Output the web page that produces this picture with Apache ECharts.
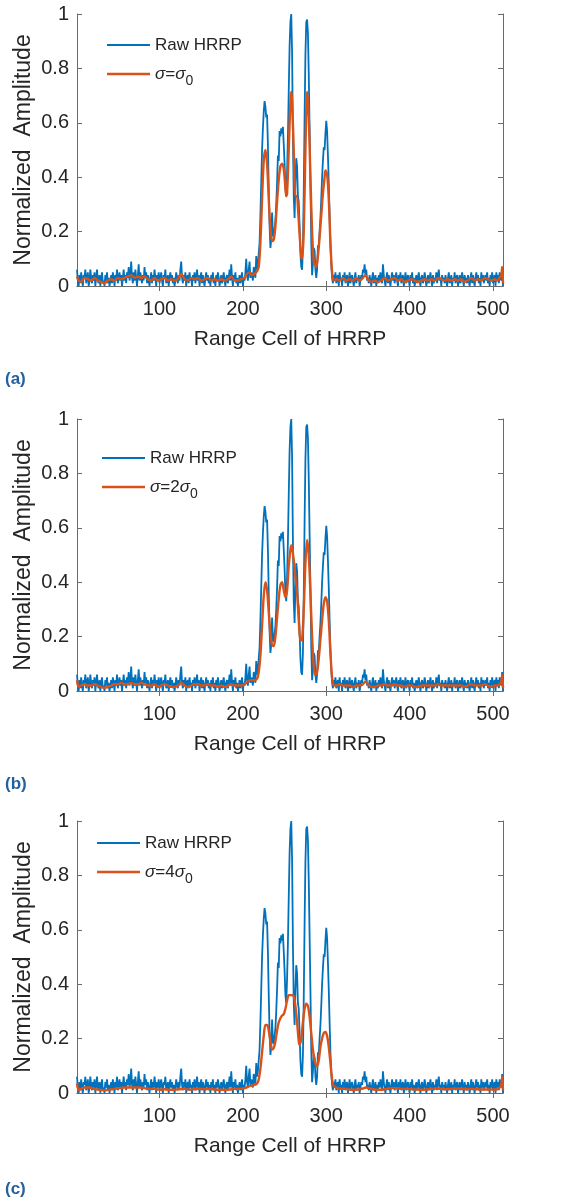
<!DOCTYPE html>
<html>
<head>
<meta charset="utf-8">
<script src="https://cdn.jsdelivr.net/npm/echarts@6/dist/echarts.min.js"></script>
<style>html,body{margin:0;padding:0;background:#fff}#c{width:576px;height:1201px}</style>
</head>
<body>
<div id="c"></div>
<script>
// Raw HRRP amplitude, range cells 1..512 (same raw profile in all panels)
const rawHRRP = [
.06,.02,.00,.04,.01,.05,.02,.00,.04,.03,
.06,.01,.03,.05,.00,.02,.06,.03,.01,.04,
.02,.05,.00,.03,.06,.02,.01,.04,.00,.03,
.05,.01,.02,.00,.04,.02,.05,.01,.03,.00,
.02,.04,.01,.05,.03,.00,.04,.02,.06,.01,
.03,.05,.02,.04,.00,.03,.06,.02,.04,.01,
.05,.03,.07,.02,.04,.09,.03,.01,.05,.02,
.06,.03,.00,.04,.08,.02,.05,.03,.01,.04,
.02,.07,.03,.05,.01,.04,.02,.00,.03,.05,
.01,.04,.02,.06,.03,.00,.04,.02,.05,.01,
.03,.05,.02,.00,.04,.03,.06,.01,.02,.04,
.00,.03,.05,.02,.04,.01,.03,.00,.02,.05,
.03,.01,.04,.02,.06,.09,.03,.01,.04,.02,
.05,.00,.03,.04,.01,.05,.02,.03,.00,.04,
.02,.05,.01,.03,.06,.02,.04,.00,.03,.05,
.01,.04,.02,.00,.03,.05,.02,.04,.01,.03,
.00,.04,.02,.05,.01,.03,.00,.04,.02,.05,
.03,.00,.02,.04,.01,.03,.05,.02,.00,.03,
.04,.01,.03,.06,.02,.08,.03,.00,.04,.02,
.05,.01,.03,.00,.02,.04,.01,.03,.05,.00,
.03,.02,.05,.10,.04,.02,.06,.09,.03,.05,
.04,.02,.07,.05,.03,.11,.06,.08,
.12,.16,.26,.38,.50,.58,.64,.68,.66,.62,
.63,.52,.36,.22,.14,.17,.27,.19,.18,.21,
.24,.30,.38,.48,.46,.57,.55,.58,.56,.585,
.52,.45,.36,.33,.42,.55,.72,.88,.97,1.0,
.86,.55,.33,.25,.38,.47,.44,.33,.31,.22,
.12,.07,.06,.14,.35,.62,.85,.97,.98,.93,
.78,.58,.38,.16,.04,.08,.14,.13,.06,.03,
.06,.15,.14,.20,.25,.32,.40,.46,.51,.50,
.56,.607,.57,.48,.38,.26,.15,.08,.03,.01,
.04,.02,
.05,.01,.03,.04,.00,.05,.02,.03,.00,.04,
.02,.05,.01,.03,.04,.00,.02,.05,.01,.03,
.04,.02,.00,.03,.05,.01,.03,.02,.04,.00,
.02,.04,.03,.06,.05,.08,.04,.06,.02,.03,
.01,.04,.02,.00,.03,.05,.01,.02,.04,.00,
.03,.01,.04,.02,.05,.03,.01,.08,.04,.02,
.00,.03,.05,.01,.04,.02,.00,.03,.05,.02,
.04,.01,.03,.05,.02,.00,.04,.02,.05,.01,
.03,.04,.00,.02,.05,.01,.03,.04,.02,.00,
.04,.02,.05,.01,.03,.00,.02,.04,.01,.03,
.05,.02,.00,.03,.04,.01,.02,.05,.03,.00,
.02,.04,.01,.03,.05,.02,.00,.04,.01,.03,
.02,.05,.01,.04,.06,.02,.03,.00,.04,.02,
.03,.01,.04,.02,.00,.03,.05,.01,.02,.04,
.00,.03,.02,.05,.01,.03,.04,.00,.02,.04,
.01,.03,.05,.02,.00,.04,.02,.03,.01,.04,
.02,.00,.03,.05,.01,.04,.02,.00,.03,.05,
.02,.04,.01,.03,.00,.05,.02,.04,.01,.03,
.04,.02,.05,.01,.03,.00,.04,.02,.05,.01,
.03,.04,.00,.05,.02,.04,.01,.05,.03,.02,
.07,.00
];

// Filtered profiles [range cell, amplitude]
const sigma1 = [[1,.035],[3,.02],[6,.015],[10,.03],[14,.025],[18,.02],[22,.03],[26,.02],[30,.015],[34,.01],[38,.02],[42,.025],[46,.02],[50,.03],[54,.025],[58,.03],[62,.035],[66,.04],[70,.03],[74,.035],[78,.03],[82,.035],[86,.025],[90,.02],[94,.03],[98,.02],[102,.025],[106,.03],[110,.02],[114,.025],[118,.02],[122,.025],[126,.045],[130,.025],[134,.02],[138,.03],[142,.025],[146,.03],[150,.02],[154,.025],[158,.03],[162,.02],[166,.025],[170,.02],[174,.025],[178,.02],[182,.025],[186,.035],[190,.02],[194,.02],[198,.025],[202,.03],[205,.045],[208,.05],[211,.04],[214,.045],[217,.055],[219,.07],[221,.16],[223,.32],[225,.46],[227,.50],[229,.45],[231,.32],[233,.21],[235,.165],[237,.17],[239,.22],[241,.31],[243,.39],[245,.44],[247,.45],[249,.43],[251,.36],[252,.33],[253,.34],[255,.50],[257,.68],[258,.714],[259,.68],[261,.50],[262,.38],[263,.33],[264,.33],[265,.33],[266,.29],[268,.19],[270,.11],[271,.10],[273,.20],[275,.50],[277,.714],[279,.62],[281,.40],[283,.20],[285,.09],[287,.075],[288,.07],[290,.11],[292,.18],[294,.26],[296,.34],[298,.40],[299,.425],[301,.41],[303,.32],[305,.16],[307,.05],[309,.02],[312,.025],[316,.02],[320,.03],[324,.02],[328,.025],[332,.02],[336,.03],[340,.02],[344,.03],[347,.04],[350,.025],[354,.015],[358,.02],[362,.015],[366,.02],[370,.03],[374,.02],[378,.025],[382,.03],[386,.02],[390,.025],[394,.015],[398,.02],[402,.025],[406,.02],[410,.015],[414,.02],[418,.025],[422,.02],[426,.025],[430,.02],[434,.03],[438,.025],[442,.02],[446,.025],[450,.02],[454,.025],[458,.02],[462,.025],[466,.015],[470,.02],[474,.03],[478,.02],[482,.025],[486,.02],[490,.03],[494,.025],[498,.02],[502,.025],[505,.02],[508,.03],[510,.04],[511,.07],[512,.01]];

const sigma2 = [[1,.04],[3,.015],[6,.02],[10,.025],[14,.02],[18,.02],[22,.025],[26,.02],[30,.015],[34,.012],[38,.015],[42,.02],[46,.025],[50,.025],[54,.03],[58,.025],[62,.025],[66,.03],[70,.025],[74,.025],[78,.03],[82,.025],[86,.02],[90,.02],[94,.025],[98,.015],[102,.02],[106,.025],[110,.02],[114,.015],[118,.015],[122,.02],[126,.03],[130,.02],[134,.015],[138,.02],[142,.025],[146,.025],[150,.02],[154,.02],[158,.025],[162,.02],[166,.02],[170,.015],[174,.02],[178,.015],[182,.02],[186,.025],[190,.02],[194,.02],[198,.02],[202,.025],[206,.035],[210,.04],[214,.04],[217,.045],[219,.07],[221,.13],[223,.24],[225,.35],[227,.40],[229,.37],[231,.29],[233,.21],[235,.17],[237,.165],[239,.20],[241,.27],[243,.34],[245,.39],[247,.40],[249,.37],[251,.345],[253,.37],[255,.46],[257,.52],[258,.535],[259,.53],[261,.48],[263,.42],[265,.36],[267,.26],[269,.185],[271,.19],[273,.30],[275,.47],[277,.555],[279,.50],[281,.36],[283,.20],[285,.09],[287,.058],[289,.07],[291,.12],[293,.19],[295,.26],[297,.32],[299,.345],[301,.33],[303,.26],[305,.14],[307,.05],[309,.02],[312,.02],[316,.025],[320,.02],[324,.02],[328,.02],[332,.015],[336,.02],[340,.02],[344,.025],[347,.035],[350,.025],[354,.015],[358,.015],[362,.02],[366,.02],[370,.025],[374,.02],[378,.02],[382,.025],[386,.02],[390,.02],[394,.015],[398,.02],[402,.02],[406,.015],[410,.015],[414,.02],[418,.02],[422,.02],[426,.02],[430,.02],[434,.025],[438,.02],[442,.02],[446,.02],[450,.02],[454,.02],[458,.02],[462,.02],[466,.015],[470,.02],[474,.025],[478,.02],[482,.02],[486,.02],[490,.025],[494,.02],[498,.015],[502,.02],[505,.02],[508,.025],[510,.035],[511,.06],[512,.01]];

const sigma4 = [[1,.035],[3,.01],[6,.015],[10,.02],[16,.02],[22,.015],[28,.012],[34,.01],[40,.012],[46,.015],[52,.018],[58,.02],[64,.02],[70,.02],[76,.02],[82,.018],[88,.015],[94,.015],[100,.012],[106,.014],[112,.012],[118,.012],[124,.014],[130,.015],[136,.012],[142,.014],[148,.015],[154,.014],[160,.015],[166,.013],[172,.012],[178,.012],[184,.013],[190,.015],[196,.015],[202,.018],[208,.025],[214,.03],[217,.035],[219,.05],[221,.09],[223,.15],[225,.21],[227,.25],[229,.25],[231,.23],[233,.19],[235,.16],[237,.165],[239,.19],[241,.23],[243,.26],[245,.275],[247,.285],[249,.29],[251,.31],[253,.34],[255,.36],[257,.36],[259,.36],[261,.355],[263,.32],[265,.26],[267,.19],[268,.177],[270,.20],[272,.26],[274,.31],[276,.328],[278,.32],[280,.28],[282,.22],[284,.16],[286,.12],[288,.10],[289,.098],[291,.12],[293,.17],[295,.20],[297,.22],[299,.224],[301,.21],[303,.17],[305,.11],[307,.05],[309,.025],[312,.02],[318,.015],[324,.015],[330,.012],[336,.012],[342,.015],[348,.02],[354,.015],[360,.012],[366,.012],[372,.015],[378,.018],[384,.018],[390,.015],[396,.015],[402,.014],[408,.013],[414,.012],[420,.013],[426,.015],[432,.016],[438,.015],[444,.014],[450,.015],[456,.016],[462,.015],[468,.014],[474,.015],[480,.014],[486,.013],[492,.013],[498,.013],[504,.013],[508,.02],[510,.03],[511,.06],[512,.01]];

const xTickValues = [100, 200, 300, 400, 500];
const panelLabels = ['(a)', '(b)', '(c)'];
const filteredNames = ['σ=σ0', 'σ=2σ0', 'σ=4σ0'];
const filteredRich = ['{i|σ}={i|σ}{s|0}', '{i|σ}=2{i|σ}{s|0}', '{i|σ}=4{i|σ}{s|0}'];
const filteredData = [sigma1, sigma2, sigma4];

const BLUE = '#0072BD', ORANGE = '#D95319', AX = '#6a6a6a', TXT = '#262626';
const FONT = 'Liberation Sans, Arial, Helvetica, sans-serif';

const gridTops = [14, 419, 821];
const legendLeft = [107, 102, 97];
const legendRow1 = [45, 458, 843];
const legendRow2 = [74, 487, 872];
const labelY = [380, 785, 1190];

const rawPairs = rawHRRP.map((v, i) => [i + 1, v]);

const grid = [], xAxis = [], yAxis = [], series = [], legend = [], title = [];
gridTops.forEach((t, k) => {
  grid.push({ left: 77, top: t, width: 426, height: 272 });
});
gridTops.forEach((t, k) => {
  xAxis.push({
    type: 'value', gridIndex: k, min: 1, max: 512, position: 'bottom',
    splitLine: { show: false },
    axisLine: { show: true, lineStyle: { color: AX, width: 1 } },
    axisTick: { show: true, inside: true, length: 5, customValues: xTickValues, lineStyle: { color: AX } },
    axisLabel: { customValues: xTickValues, fontSize: 20, color: TXT, margin: 13, fontFamily: FONT },
    name: 'Range Cell of HRRP', nameLocation: 'middle', nameGap: 43, nameMoveOverlap: false,
    nameTextStyle: { fontSize: 21, color: TXT, fontFamily: FONT }
  });
});
gridTops.forEach((t, k) => {
  xAxis.push({
    type: 'value', gridIndex: k, min: 1, max: 512, position: 'top',
    splitLine: { show: false },
    axisLine: { show: true, lineStyle: { color: AX, width: 1 } },
    axisTick: { show: true, inside: true, length: 5, customValues: xTickValues, lineStyle: { color: AX } },
    axisLabel: { show: false }
  });
});
gridTops.forEach((t, k) => {
  yAxis.push({
    type: 'value', gridIndex: k, min: 0, max: 1, interval: 0.2, position: 'left',
    splitLine: { show: false },
    axisLine: { show: true, lineStyle: { color: AX, width: 1 } },
    axisTick: { show: true, inside: true, length: 5, lineStyle: { color: AX } },
    axisLabel: { fontSize: 20, color: TXT, margin: 8, fontFamily: FONT },
    name: 'Normalized  Amplitude', nameLocation: 'middle', nameGap: 42, nameMoveOverlap: false,
    nameTextStyle: { fontSize: 23, color: TXT, fontFamily: FONT }
  });
});
gridTops.forEach((t, k) => {
  yAxis.push({
    type: 'value', gridIndex: k, min: 0, max: 1, interval: 0.2, position: 'right',
    splitLine: { show: false },
    axisLine: { show: true, lineStyle: { color: AX, width: 1 } },
    axisTick: { show: true, inside: true, length: 5, lineStyle: { color: AX } },
    axisLabel: { show: false }
  });
});

gridTops.forEach((t, k) => {
  series.push({
    type: 'line', name: 'Raw HRRP', xAxisIndex: k, yAxisIndex: k,
    data: rawPairs, symbol: 'none', clip: true,
    lineStyle: { color: BLUE, width: 1.8 }, itemStyle: { color: BLUE }, z: 2
  });
  series.push({
    type: 'line', name: filteredNames[k], xAxisIndex: k, yAxisIndex: k,
    data: filteredData[k], symbol: 'none', smooth: 0.3, clip: true,
    lineStyle: { color: ORANGE, width: 2.4 }, itemStyle: { color: ORANGE }, z: 3
  });
  legend.push({
    data: [{ name: 'Raw HRRP', icon: 'rect' }], left: legendLeft[k], top: legendRow1[k] - 11, padding: 0,
    itemWidth: 43, itemHeight: 2, selectedMode: false,
    textStyle: { fontSize: 17, lineHeight: 22, color: TXT, fontFamily: FONT }
  });
  legend.push({
    data: [{ name: filteredNames[k], icon: 'rect' }], left: legendLeft[k], top: legendRow2[k] - 14, padding: 0,
    itemWidth: 43, itemHeight: 2.4, selectedMode: false,
    formatter: () => filteredRich[k],
    textStyle: {
      fontSize: 17, lineHeight: 28, color: TXT, fontFamily: FONT,
      rich: {
        i: { fontSize: 17, lineHeight: 28, fontStyle: 'italic', color: TXT, fontFamily: FONT },
        s: { fontSize: 14, lineHeight: 10, verticalAlign: 'bottom', color: TXT, fontFamily: FONT }
      }
    }
  });
  title.push({
    text: panelLabels[k], left: 5, top: labelY[k] - 9, padding: 0,
    textStyle: { fontSize: 17, fontWeight: 'bold', color: '#23609c', fontFamily: FONT }
  });
});

const chart = echarts.init(document.getElementById('c'), null, { renderer: 'canvas' });
chart.setOption({
  animation: false,
  backgroundColor: '#ffffff',
  textStyle: { fontFamily: FONT },
  title, grid, xAxis, yAxis, legend, series
});
</script>
</body>
</html>
